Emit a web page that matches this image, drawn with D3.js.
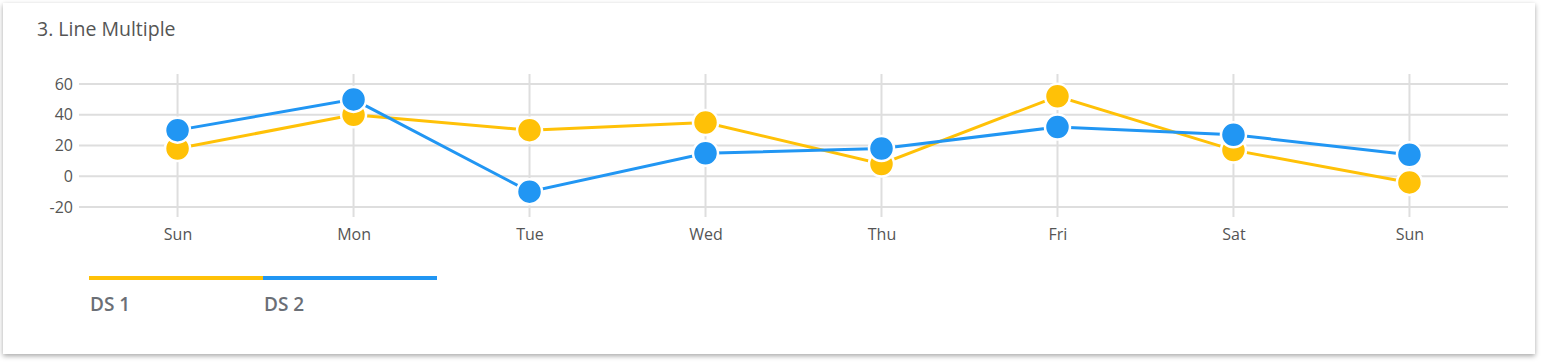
<!DOCTYPE html>
<html>
<head>
<meta charset="utf-8">
<script src="https://cdn.jsdelivr.net/npm/d3@7"></script>
<style>
  body { margin: 0; background: #fff; font-family: "Open Sans", "Noto Sans", sans-serif; }
  #card { position: absolute; left: 3px; top: 3px; width: 1532px; height: 351px;
          background: #fff; box-shadow: 0 2px 5px rgba(0,0,0,0.35); }
  svg { position: absolute; left: 0; top: 0; }
</style>
</head>
<body>
<div id="card"></div>
<div id="chart"></div>
<script>
// chart data
var days = ["Sun", "Mon", "Tue", "Wed", "Thu", "Fri", "Sat", "Sun"];
var ds1 = [18, 40, 30, 35, 8, 52, 17, -4];
var ds2 = [30, 50, -10, 15, 18, 32, 27, 14];
var yTicks = [-20, 0, 20, 40, 60];
var seriesNames = ["DS 1", "DS 2"];
var colors = ["#FFC107", "#2196F3"];

var W = 1541, H = 362;
var plotLeft = 79, plotRight = 1508, plotTop = 84, plotBottom = 207;

var svg = d3.select("#chart").append("svg")
    .attr("width", W).attr("height", H);

svg.append("text")
    .attr("x", 37).attr("y", 36)
    .style("font-size", "19.5px").style("fill", "#555")
    .text("3. Line Multiple");

// x uses index so the two "Sun" entries stay separate
var x = d3.scalePoint()
    .domain(d3.range(days.length))
    .range([plotLeft, plotRight])
    .padding(0.56);

var y = d3.scaleLinear()
    .domain([-20, 60])
    .range([plotBottom, plotTop]);

// grid
svg.append("g").selectAll("line")
    .data(yTicks).enter().append("line")
    .attr("x1", plotLeft).attr("x2", plotRight)
    .attr("y1", function(d) { return y(d); })
    .attr("y2", function(d) { return y(d); })
    .style("stroke", "#dedede").style("stroke-width", 2);

svg.append("g").selectAll("line")
    .data(d3.range(days.length)).enter().append("line")
    .attr("x1", function(d) { return x(d); })
    .attr("x2", function(d) { return x(d); })
    .attr("y1", plotTop - 10).attr("y2", plotBottom + 10)
    .style("stroke", "#dedede").style("stroke-width", 2);

// axis labels
var yAxis = svg.append("g")
    .attr("transform", "translate(" + (plotLeft - 6) + ",0)")
    .call(d3.axisLeft(y).tickValues(yTicks).tickFormat(function(d) { return String(d); })
        .tickSize(0).tickPadding(0));
yAxis.select(".domain").remove();
yAxis.selectAll("text")
    .style("font-size", "16px").style("fill", "#555")
    .style("font-family", "'Open Sans', sans-serif");

var xAxis = svg.append("g")
    .attr("transform", "translate(0," + (plotBottom + 22) + ")")
    .call(d3.axisBottom(x).tickFormat(function(i) { return days[i]; }).tickSize(0).tickPadding(0));
xAxis.select(".domain").remove();
xAxis.selectAll("text")
    .style("font-size", "16px").style("fill", "#555")
    .style("font-family", "'Open Sans', sans-serif");

// series
var line = d3.line()
    .x(function(d, i) { return x(i); })
    .y(function(d) { return y(d); });

[ds1, ds2].forEach(function(vals, s) {
    svg.append("path")
        .datum(vals)
        .attr("d", line)
        .style("fill", "none")
        .style("stroke", colors[s])
        .style("stroke-width", 3);

    svg.append("g").selectAll("circle")
        .data(vals).enter().append("circle")
        .attr("cx", function(d, i) { return x(i); })
        .attr("cy", function(d) { return y(d); })
        .attr("r", 12.5)
        .style("fill", colors[s])
        .style("stroke", "#fff")
        .style("stroke-width", 2.5);
});

// legend
var legendX = d3.scaleLinear().domain([0, 1]).range([89, 263]);
var legend = svg.append("g").selectAll("g")
    .data(seriesNames).enter().append("g");

legend.append("line")
    .attr("x1", function(d, i) { return legendX(i); })
    .attr("x2", function(d, i) { return legendX(i + 1); })
    .attr("y1", 278).attr("y2", 278)
    .style("stroke", function(d, i) { return colors[i]; })
    .style("stroke-width", 4);

legend.append("text")
    .attr("x", function(d, i) { return legendX(i) + 1; })
    .attr("y", 311)
    .style("font-size", "19px").style("font-weight", 600)
    .style("fill", "#6b6f76")
    .text(function(d) { return d; });
</script>
</body>
</html>
